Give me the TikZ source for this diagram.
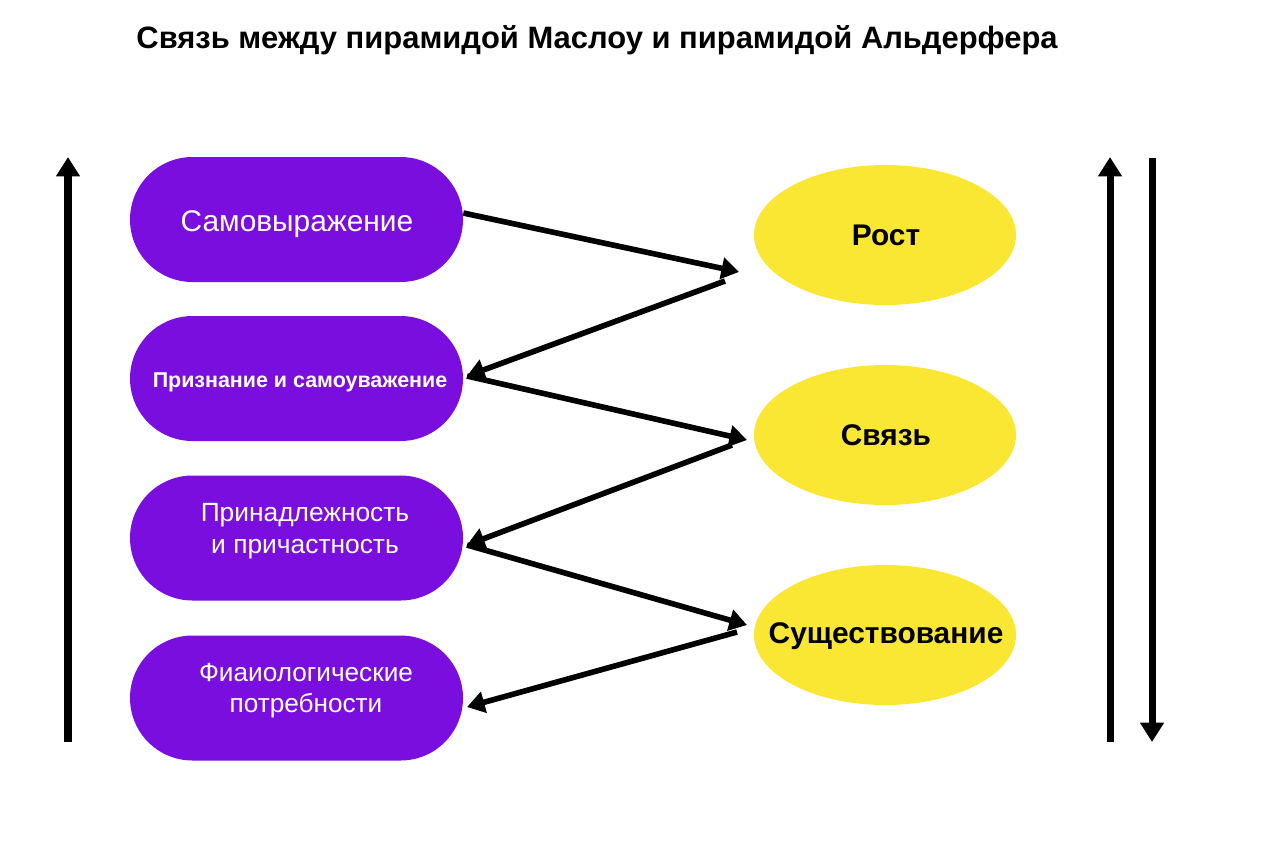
\documentclass[tikz,border=0pt]{standalone}
\usepackage{fontspec}
\setmainfont{Liberation Sans}
\usetikzlibrary{arrows.meta,shapes.misc,shapes.geometric}
\definecolor{maslow}{RGB}{122,14,222}
\definecolor{alder}{RGB}{250,231,52}
\tikzset{
  need/.style={rounded rectangle, fill=maslow, minimum width=333*0.02cm, minimum height=125*0.02cm, inner sep=0pt},
  needtext/.style={text=white, align=center, font=\fontsize{15}{18}\selectfont},
  erg/.style={ellipse, fill=alder, minimum width=262*0.02cm, minimum height=140*0.02cm, inner sep=0pt},
  ergtext/.style={font=\bfseries\fontsize{17}{20}\selectfont},
  zig/.style={line width=3.2pt, -{Triangle[length=10pt,width=12pt]}},
  side/.style={line width=4pt, -{Triangle[length=11pt,width=13pt]}}
}
\begin{document}
\begin{tikzpicture}[x=0.02cm,y=-0.02cm]
        \useasboundingbox (0,0) rectangle (1280,853);
        % Title
        \node[font=\bfseries\fontsize{17.6}{20}\selectfont] (title) at (597,40) {Связь между пирамидой Маслоу и пирамидой Альдерфера};

        % Maslow
        \node[need] (self) at (296.5,219.5) {};
        \node[need] (esteem) at (296.5,378.5) {};
        \node[need] (belong) at (296.5,538) {};
        \node[need] (phys) at (296.5,698) {};
        \node[needtext, font=\fontsize{17}{20}\selectfont] (tself) at (297,224) {Самовыражение};
        \node[needtext, font=\bfseries\fontsize{12.2}{14}\selectfont] (testeem) at (300,382) {Признание и самоуважение};
        \node[needtext] (tbelong) at (305,531) {Принадлежность\\ и причастность};
        \node[needtext, font=\fontsize{14.9}{17.5}\selectfont] (tphys) at (306,691) {Фиаиологические\\потребности};

        % Alderfer
        \node[erg] (growth) at (885,235) {};
        \node[erg] (related) at (885,435) {};
        \node[erg] (exist) at (885,635) {};
        \node[ergtext] (tgrowth) at (886,235) {Рост};
        \node[ergtext] (trelated) at (886,435) {Связь};
        \node[ergtext] (texist) at (886,636) {Существование};

        % Zigzag
        \coordinate (b1) at (739,272);
        \coordinate (b2) at (725,281);
        \coordinate (c1) at (467,376);
        \coordinate (d1) at (747,440);
        \coordinate (d2) at (732,445);
        \coordinate (e1) at (467,545);
        \coordinate (f1) at (747,625);
        \coordinate (f2) at (737,632);
        \coordinate (g1) at (467,707);
        \draw[zig] (self.east |- 0,213) -- (b1);
        \draw[zig] (b2) -- (c1);
        \draw[zig] (c1) -- (d1);
        \draw[zig] (d2) -- (e1);
        \draw[zig] (e1) -- (f1);
        \draw[zig] (f2) -- (g1);

        % Side arrows
        \coordinate (lbot) at (68,742);
        \coordinate (ltop) at (68,157);
        \coordinate (ubot) at (1110,742);
        \coordinate (utop) at (1110,157);
        \coordinate (dtop) at (1152,158);
        \coordinate (dbot) at (1152,742);
        \draw[side] (lbot) -- (ltop);
        \draw[side] (ubot) -- (utop);
        \draw[side] (dtop) -- (dbot);
\end{tikzpicture}
\end{document}
